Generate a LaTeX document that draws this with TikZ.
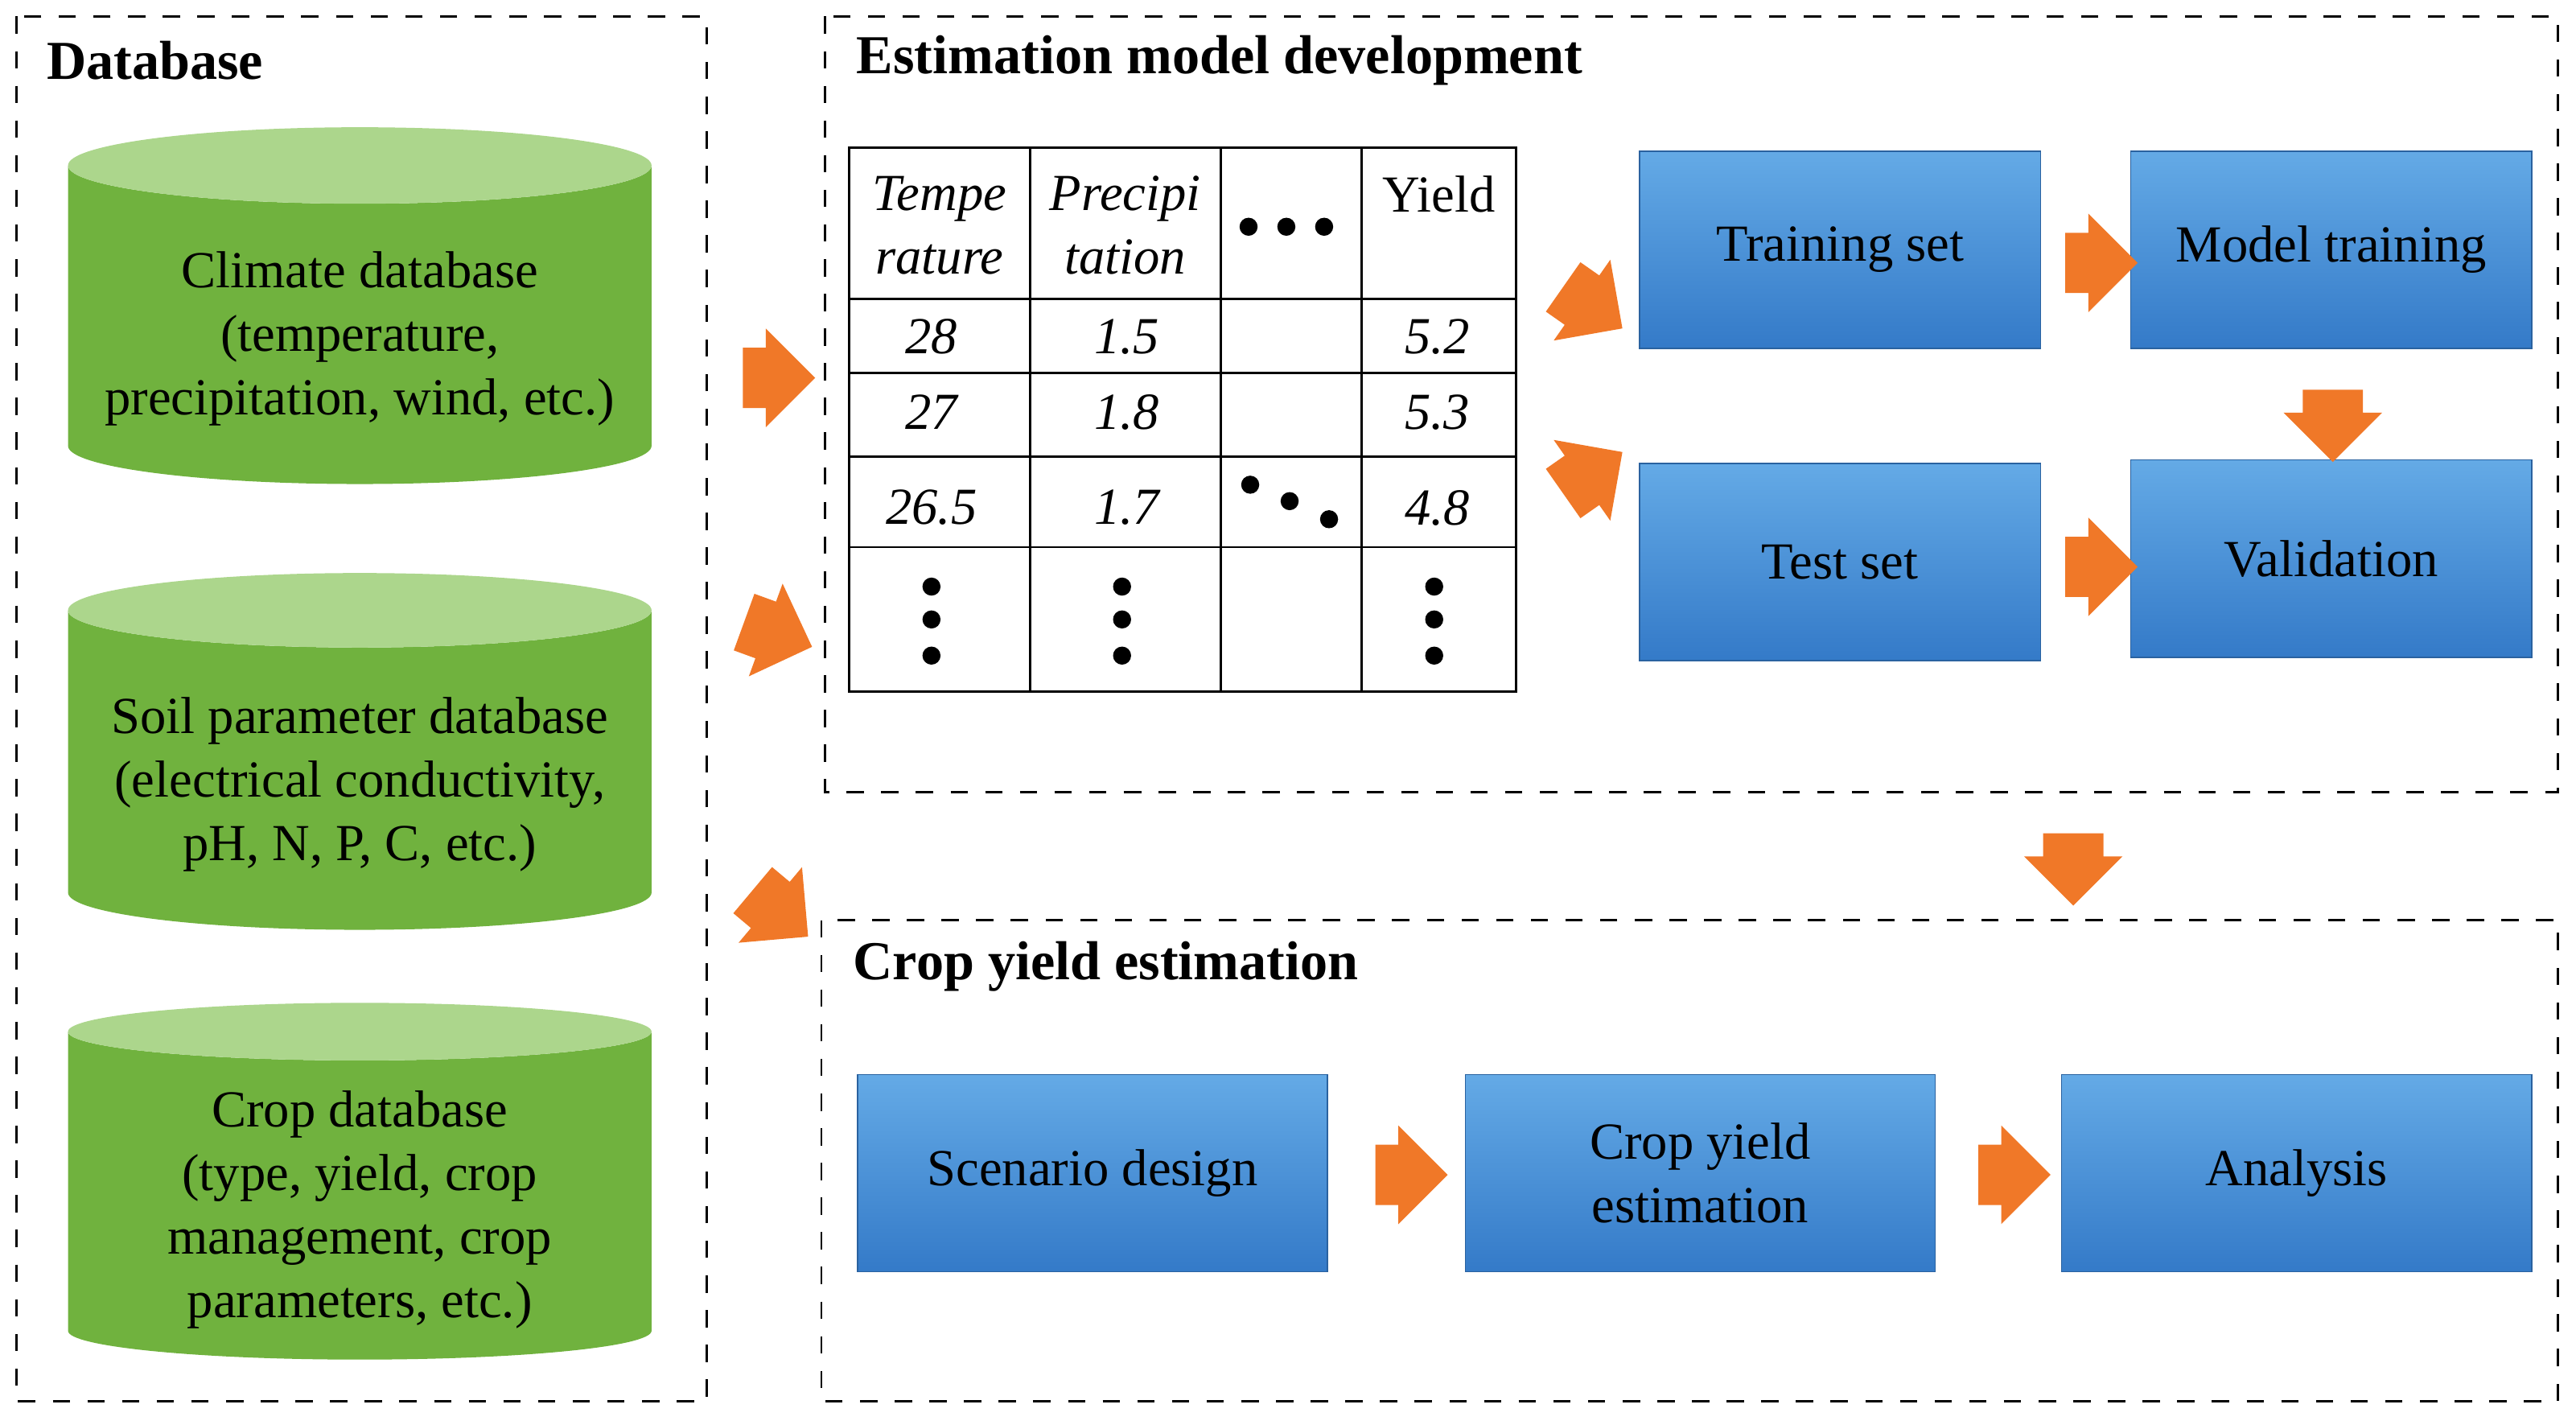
\documentclass[tikz,border=0pt]{standalone}
\usepackage{fontspec}
\setmainfont{Liberation Serif}
\usetikzlibrary{shapes.geometric,shapes.arrows}
\definecolor{dbbody}{RGB}{112,178,62}
\definecolor{dbtop}{RGB}{172,214,140}
\definecolor{boxtop}{RGB}{100,170,230}
\definecolor{boxbot}{RGB}{52,122,200}
\definecolor{arrowfill}{RGB}{240,120,40}

\begin{document}
\begin{tikzpicture}[x=0.01cm,y=-0.01cm,font=\fontsize{9}{11}\selectfont]
\tikzset{frame/.style={draw,dashed,thin},
  title/.style={anchor=west,font=\fontsize{9.5}{12}\selectfont\bfseries},
  db/.style={cylinder,shape border rotate=90,aspect=0.15,minimum width=3.55cm,
    minimum height=2.17cm,cylinder uses custom fill,cylinder body fill=dbbody,
    cylinder end fill=dbtop,align=center,inner sep=0pt},
  stage/.style={minimum width=2.44cm,minimum height=1.2cm,top color=boxtop,
    bottom color=boxbot,draw=boxbot!80!black,very thin,align=center},
  wide stage/.style={stage,minimum width=2.86cm},
  flow/.style={single arrow,fill=arrowfill,minimum height=0.44cm,
    minimum width=0.6cm,single arrow head extend=0.1cm,inner xsep=0pt,
    inner ysep=0.15cm},
  cell/.style={font=\fontsize{9}{11}\selectfont\itshape,align=center},
  dot/.style={circle,fill,inner sep=0pt,minimum size=0.11cm}}
\useasboundingbox (0,0) rectangle (1568,867);

% frames
\draw[frame] (10,10) rectangle (430,853);
\draw[frame] (502,10) rectangle (1557,482);
\draw[frame] (500,560) rectangle (1557,853);
\node[title] (dbtitle) at (16,37) {Database};
\node[title] (esttitle) at (509,37) {Estimation model development};
\node[title] (croptitle) at (507,588) {Crop yield estimation};

% databases
\node[db] (climate) at (219,198) {\\Climate database\\(temperature,\\precipitation, wind, etc.)};
\node[db] (soil) at (219,469) {\\Soil parameter database\\(electrical conductivity,\\pH, N, P, C, etc.)};
\node[db] (crop) at (219,728) {\\Crop database\\(type, yield, crop\\management, crop\\parameters, etc.)};

% table
\draw (517,90) rectangle (923,421);
\foreach \x in {627,743,829} \draw (\x,90) -- (\x,421);
\foreach \y in {182,227,278,333} \draw (517,\y) -- (923,\y);
\node[cell] (h1) at (572,137) {Tempe\\rature};
\node[cell] (h2) at (685,137) {Precipi\\tation};
\node (h4) at (876,118) {Yield};
\foreach \n/\y/\a/\b/\c in {r1/205/28/1.5/5.2,r2/251/27/1.8/5.3,r3/309/26.5/1.7/4.8}{
  \node[cell] (\n a) at (567,\y) {\a};
  \node[cell] (\n b) at (686,\y) {\b};
  \node[cell] (\n c) at (875,\y) {\c};}
\foreach \x in {760,783,806} \node[dot] at (\x,138) {};
\foreach \x/\y in {761/295,785/305,809/316} \node[dot] at (\x,\y) {};
\foreach \x in {567,683,873} \foreach \y in {357,377,399} \node[dot] at (\x,\y) {};

% stages
\node[stage] (train) at (1120,152) {Training set};
\node[stage] (model) at (1419,152) {Model training};
\node[stage] (test) at (1120,342) {Test set};
\node[stage] (valid) at (1419,340) {Validation};
\node[wide stage] (scen) at (665,714) {Scenario design};
\node[wide stage] (yield) at (1035,714) {Crop yield\\estimation};
\node[wide stage] (anal) at (1398,714) {Analysis};

% block arrows
\node[flow] (a1) at (465,230) {};
\node[flow,rotate=-20] (a2) at (465,383) {};
\node[flow,rotate=-40] (a3) at (468,550) {};
\node[flow,rotate=-35] (a4) at (962,182) {};
\node[flow,rotate=35] (a5) at (962,293) {};
\node[flow] (a6) at (1270,160) {};
\node[flow,rotate=-90] (a7) at (1420,250) {};
\node[flow] (a8) at (1270,345) {};
\node[flow,rotate=-90] (a9) at (1262,520) {};
\node[flow] (a10) at (850,715) {};
\node[flow] (a11) at (1217,715) {};
\end{tikzpicture}
\end{document}
